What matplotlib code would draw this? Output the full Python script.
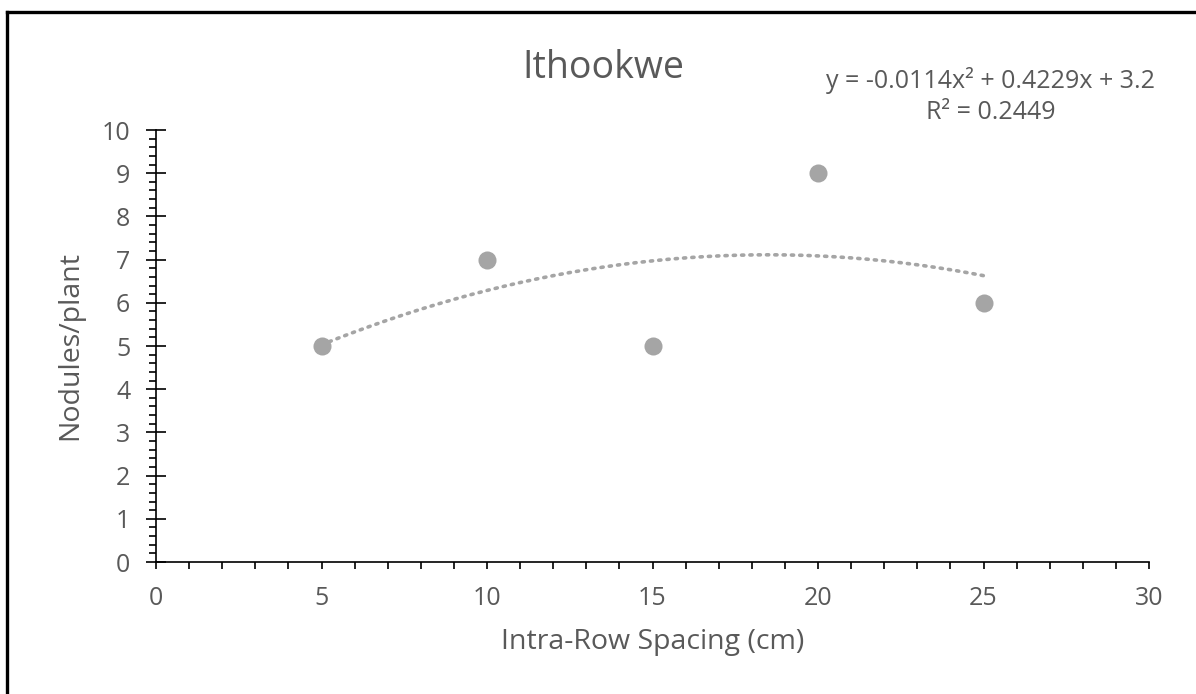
import numpy as np
import matplotlib
matplotlib.use("Agg")
import matplotlib.pyplot as plt
from matplotlib.ticker import MultipleLocator
from matplotlib.lines import Line2D

# Data
spacing = [5, 10, 15, 20, 25]
nodules = [5, 7, 5, 9, 6]
title = "Ithookwe"
xlabel = "Intra-Row Spacing (cm)"
ylabel = "Nodules/plant"
eq_text = "y = -0.0114x² + 0.4229x + 3.2\nR² = 0.2449"

plt.rcParams['font.family'] = ['Open Sans', 'DejaVu Sans']
grey_txt = '#595959'
pt_col = '#A5A5A5'

fig = plt.figure(figsize=(11.96, 6.94), dpi=100)
ax = fig.add_axes([156/1196, 1-562/694, (1149-156)/1196, (562-130)/694])

ax.scatter(spacing, nodules, s=13**2, color=pt_col, zorder=3, linewidths=0)

coef = np.polyfit(spacing, nodules, 2)
xs = np.linspace(min(spacing), max(spacing), 200)
ax.plot(xs, np.polyval(coef, xs), color=pt_col, lw=2.6, linestyle=(0, (0.6, 1.7)),
        dash_capstyle='round', zorder=2)

ax.set_xlim(0, 30)
ax.set_ylim(0, 10)
ax.xaxis.set_major_locator(MultipleLocator(5))
ax.xaxis.set_minor_locator(MultipleLocator(1))
ax.yaxis.set_major_locator(MultipleLocator(1))
ax.yaxis.set_minor_locator(MultipleLocator(0.2))

for s in ['top', 'right']:
    ax.spines[s].set_visible(False)
for s in ['left', 'bottom']:
    ax.spines[s].set_linewidth(1.2)
    ax.spines[s].set_color('black')

ax.tick_params(axis='y', which='major', direction='inout', length=15, width=1.2,
               labelsize=18, labelcolor=grey_txt, pad=11)
ax.tick_params(axis='y', which='minor', direction='out', length=5, width=1.2)
ax.tick_params(axis='x', which='both', direction='out', length=5, width=1.2,
               labelsize=18, labelcolor=grey_txt, pad=12)

ax.set_xlabel(xlabel, fontsize=20.5, color=grey_txt, va='center')
ax.set_ylabel(ylabel, fontsize=20.5, color=grey_txt, va='center')
ax.xaxis.set_label_coords((653-156)/993, (562-642)/432)
ax.yaxis.set_label_coords((70-156)/993, (562-345)/432)

fig.text(603/1196, 1-68/694, title, fontsize=27, color=grey_txt, ha='center', va='center')
fig.text(991/1196, 1-96/694, eq_text, fontsize=18, color=grey_txt, ha='center', va='center',
         linespacing=1.3, multialignment='center')

# outer border (left and top visible)
fig.add_artist(Line2D([7/1196, 7/1196], [0, 1-12/694], transform=fig.transFigure,
                      color='black', lw=2.4, solid_capstyle='projecting'))
fig.add_artist(Line2D([7/1196, 1], [1-12/694, 1-12/694], transform=fig.transFigure,
                      color='black', lw=2.4, solid_capstyle='projecting'))

fig.savefig('out.png', dpi=100, facecolor='white')
